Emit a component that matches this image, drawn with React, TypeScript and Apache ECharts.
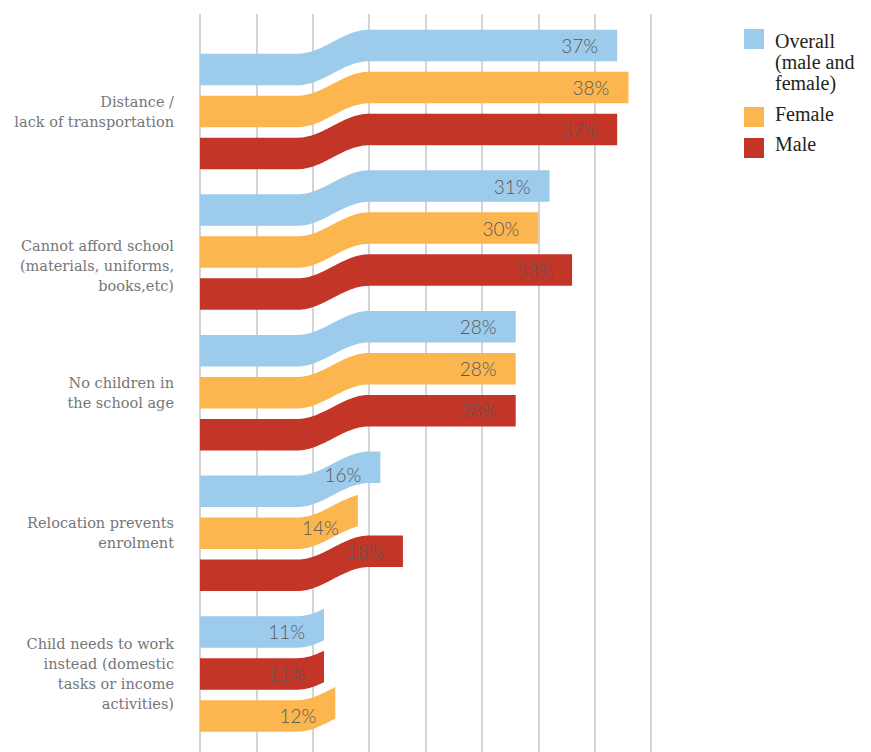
import React, { useEffect, useRef } from "react";
import * as echarts from "echarts";

// ---- Data ----
const categories = [
  "Distance /\nlack of transportation",
  "Cannot afford school\n(materials, uniforms,\nbooks,etc)",
  "No children in\nthe school age",
  "Relocation prevents\nenrolment",
  "Child needs to work\ninstead (domestic\ntasks or income\nactivities)",
];
const overall = [37, 31, 28, 16, 11];
const female = [38, 30, 28, 14, 12];
const male = [37, 33, 28, 18, 11];
// order of the three ribbons inside each category (top to bottom)
const rowOrder = [
  ["overall", "female", "male"],
  ["overall", "female", "male"],
  ["overall", "female", "male"],
  ["overall", "female", "male"],
  ["overall", "male", "female"],
];
const seriesKeys = ["overall", "female", "male"];
const seriesNames = ["Overall\n(male and\nfemale)", "Female", "Male"];
const seriesColors = ["#9DCBEC", "#FBB64F", "#C23527"];
const xMin = 0;
const xMax = 40;
const xInterval = 5;

// ---- Ribbon geometry ----
const BAR_H = 31.5;
const PITCH = 42;
const RISE = 24;
const WAVE_START = 8.6;
const WAVE_END = 15;

function ease(val: number) {
  const t = Math.min(1, Math.max(0, (val - WAVE_START) / (WAVE_END - WAVE_START)));
  return 0.5 - 0.5 * Math.cos(Math.PI * t);
}

function makeRender(key: string, color: string) {
  return (params: any, api: any) => {
    const v = api.value(0) as number;
    const ci = api.value(1) as number;
    const p0 = api.coord([0, ci]);
    const x0 = p0[0];
    const yc = p0[1];
    const unit = api.coord([1, ci])[0] - x0;
    const slot = rowOrder[ci].indexOf(key);
    const yMid = yc + (slot - 1) * PITCH;
    const top: number[][] = [];
    const bot: number[][] = [];
    const n = Math.ceil(v / 0.1);
    for (let i = 0; i <= n; i++) {
      const val = Math.min(v, i * 0.1);
      const x = x0 + val * unit;
      const s = RISE * ease(val);
      top.push([x, yMid - BAR_H / 2 - s]);
      bot.push([x, yMid + BAR_H / 2 - s]);
    }
    const points = top.concat(bot.reverse());
    const labelRight = x0 + v * unit - 19;
    const cv = (labelRight - 18 - x0) / unit;
    return {
      type: "group",
      children: [
        { type: "polygon", shape: { points }, style: { fill: color } },
        {
          type: "text",
          style: {
            text: v + "%",
            x: labelRight,
            y: yMid - RISE * ease(cv),
            align: "right",
            verticalAlign: "middle",
            fill: "#58595b",
            fontSize: 19,
            fontFamily: "Lato",
            fontWeight: 300,
          },
        },
      ],
    };
  };
}

export default function App() {
  const ref = useRef<HTMLDivElement>(null);
  useEffect(() => {
    if (!ref.current) return;
    const chart = echarts.init(ref.current, null, { renderer: "svg" });
    const valuesByKey: Record<string, number[]> = { overall, female, male };

    const legendTops = [30, 103, 133];
    const squareTops = [29, 107, 138];
    const graphic: any[] = [];
    seriesNames.forEach((name, i) => {
      graphic.push({
        type: "rect",
        left: 744,
        top: squareTops[i],
        shape: { width: 20, height: 20 },
        style: { fill: seriesColors[i] },
      });
      graphic.push({
        type: "text",
        x: 775,
        y: legendTops[i],
        style: {
          text: name,
          fill: "#231f20",
          fontSize: 20,
          lineHeight: 21,
          fontFamily: "Liberation Serif",
          verticalAlign: "top",
          align: "left",
        },
      });
    });

    chart.setOption({
      animation: false,
      backgroundColor: "#ffffff",
      grid: [
        { left: 200, right: 220, top: 14, bottom: 0 },
        { left: 200, right: 220, top: 41.2, bottom: 7.8 },
      ],
      xAxis: [
        {
          type: "value",
          gridIndex: 0,
          min: xMin,
          max: xMax,
          interval: xInterval,
          axisLine: { show: false },
          axisTick: { show: false },
          axisLabel: { show: false },
          splitLine: { show: true, lineStyle: { color: "#c6c6c6", width: 1.5 } },
        },
        {
          type: "value",
          gridIndex: 1,
          min: xMin,
          max: xMax,
          interval: xInterval,
          show: false,
          splitLine: { show: false },
        },
      ],
      yAxis: [
        { type: "value", gridIndex: 0, min: 0, max: 1, show: false, splitLine: { show: false } },
        {
          type: "category",
          gridIndex: 1,
          inverse: true,
          data: categories,
          axisLine: { show: false },
          axisTick: { show: false },
          splitLine: { show: false },
          axisLabel: {
            margin: 26,
            color: "#767676",
            fontSize: 14.5,
            lineHeight: 20,
            fontFamily: "DejaVu Serif",
            align: "right",
            formatter: (v: string, i: number) => (i === 1 ? "{g| }\n" + v : v),
            rich: { g: { lineHeight: 28, fontSize: 4 } },
          },
        },
      ],
      series: seriesKeys.map((key, si) => ({
        type: "custom",
        name: seriesNames[si],
        xAxisIndex: 1,
        yAxisIndex: 1,
        z: 5,
        encode: { x: 0, y: 1 },
        data: valuesByKey[key].map((v, i) => [v, i]),
        renderItem: makeRender(key, seriesColors[si]),
      })),
      graphic,
    });
    return () => chart.dispose();
  }, []);
  return (
    <div
      ref={ref}
      style={{ position: "fixed", left: 0, top: 0, width: 871, height: 752 }}
    />
  );
}
